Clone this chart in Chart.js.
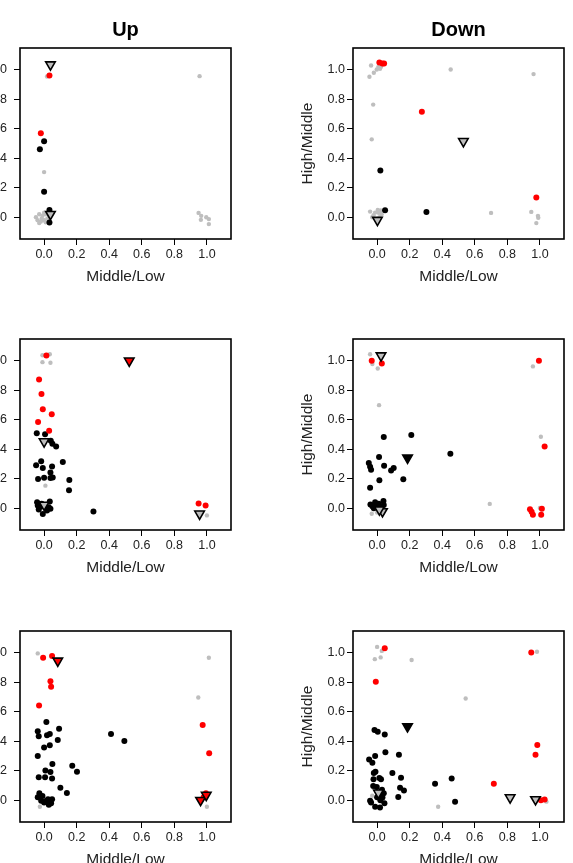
<!DOCTYPE html>
<html>
<head>
<meta charset="utf-8">
<title>Up / Down</title>
<script src="https://cdn.jsdelivr.net/npm/chart.js@4/dist/chart.umd.min.js"></script>
<style>
  html, body { margin: 0; padding: 0; background: #fff; }
  body { width: 573px; height: 863px; position: relative; overflow: hidden; }
  .panel { position: absolute; width: 280px; height: 289px; }
</style>
</head>
<body>
<div class="panel" style="left:-40px; top:0px"><canvas id="up1" width="280" height="289"></canvas></div>
<div class="panel" style="left:293px; top:0px"><canvas id="down1" width="280" height="289"></canvas></div>
<div class="panel" style="left:-40px; top:291px"><canvas id="up2" width="280" height="289"></canvas></div>
<div class="panel" style="left:293px; top:291px"><canvas id="down2" width="280" height="289"></canvas></div>
<div class="panel" style="left:-40px; top:583px"><canvas id="up3" width="280" height="289"></canvas></div>
<div class="panel" style="left:293px; top:583px"><canvas id="down3" width="280" height="289"></canvas></div>
<script>
// ----------------- Axes ----------------
const tickValues = [0, 0.2, 0.4, 0.6, 0.8, 1.0];
const tickLabels = ["0.0", "0.2", "0.4", "0.6", "0.8", "1.0"];
const xTitle = "Middle/Low";
const yTitle = "High/Middle";
const columnTitles = ["Up", "Down"];

// ----------------- Up, row 1 ----------------
const up1Grey = [[-0.05,0.0],[-0.04,-0.02],[-0.03,0.02],[-0.02,-0.03],[-0.01,0.01],[0.0,-0.02],[0.01,0.02],
  [0.02,-0.01],[-0.03,-0.04],[0.02,0.03],[0.0,0.03],[-0.015,-0.01],[0.01,-0.035],[0.03,0.0],
  [0.018,0.955],[0.955,0.957],[0.0,0.306],
  [0.949,0.029],[0.965,0.009],[0.963,-0.018],[0.996,0.0],[1.012,-0.013],[1.012,-0.047]];
const up1Black = [[0.0,0.515],[-0.026,0.461],[0.0,0.173],[0.033,0.049],[0.033,-0.036]];
const up1Red = [[0.033,0.962],[-0.02,0.569]];
const up1TriGrey = [[0.039,1.035],[0.039,0.02]];

// ----------------- Down, row 1 ----------------
const down1Grey = [[-0.037,1.029],[0.008,1.02],[0.018,1.007],[-0.002,1.002],[-0.02,0.98],[-0.047,0.953],
  [0.024,1.02],[0.452,1.002],[0.961,0.971],[-0.024,0.764],[-0.033,0.528],[0.70,0.029],
  [0.947,0.036],[0.988,0.009],[0.990,-0.004],[0.978,-0.04],[-0.043,0.038],[-0.012,0.031],
  [0.004,0.049],[0.022,0.045],[-0.022,0.013],[0.028,0.02],[0.01,0.03],[-0.03,0.0],[0.015,0.0]];
const down1Black = [[0.02,0.317],[0.049,0.047],[0.303,0.036]];
const down1Red = [[0.014,1.049],[0.033,1.043],[0.043,1.043],[0.275,0.715],[0.978,0.133]];
const down1TriGrey = [[0.53,0.515],[0.002,-0.02]];

// ----------------- Up, row 2 ----------------
const up2Grey = [[-0.01,1.038],[0.035,1.045],[-0.01,0.991],[0.039,0.987],[0.008,0.153],[1.0,-0.049],
  [-0.02,0.0],[0.01,-0.02]];
const up2Black = [[-0.045,0.509],[0.006,0.502],[0.041,0.458],[0.051,0.437],[0.074,0.419],[-0.018,0.319],
  [-0.049,0.292],[-0.008,0.272],[0.115,0.313],[0.049,0.283],[0.039,0.243],[-0.037,0.198],
  [0.0,0.207],[0.039,0.204],[0.053,0.209],[0.155,0.191],[0.153,0.121],[-0.043,0.04],
  [-0.039,0.018],[-0.033,-0.009],[-0.008,-0.04],[0.035,0.045],[0.039,-0.004],[0.018,-0.016],
  [-0.022,0.011],[0.029,0.007],[-0.015,0.03],[0.303,-0.022]];
const up2Red = [[0.014,1.036],[-0.031,0.874],[-0.016,0.775],[-0.008,0.672],[0.047,0.638],
  [-0.037,0.584],[0.031,0.526],[0.949,0.031],[0.992,0.018]];
const up2TriRed = [[0.523,1.0]];
const up2TriGrey = [[0.0,0.452],[0.0,0.022],[0.955,-0.038]];

// ----------------- Down, row 2 ----------------
const down2Grey = [[-0.043,1.045],[-0.029,0.978],[0.004,0.948],[0.012,0.699],[0.692,0.029],[0.957,0.962],
  [1.006,0.485],[1.0,0.002],[-0.033,-0.038],[0.04,-0.01],[0.0,-0.03]];
const down2Black = [[0.041,0.483],[0.21,0.497],[0.45,0.369],[0.012,0.348],[-0.051,0.306],[-0.043,0.281],
  [-0.037,0.261],[0.043,0.288],[0.086,0.256],[0.102,0.272],[0.014,0.189],[0.161,0.196],
  [-0.043,0.139],[-0.041,0.025],[-0.029,0.013],[-0.012,0.04],[0.039,0.049],[0.041,0.022],
  [-0.02,0.0],[0.01,0.03],[0.0,0.01]];
const down2Red = [[-0.033,1.0],[0.029,0.982],[0.994,1.0],[1.029,0.418],[0.939,-0.007],[0.949,-0.025],
  [0.957,-0.045],[1.012,-0.004],[1.008,-0.045]];
const down2TriGrey = [[0.024,1.035],[0.033,-0.022],[0.014,-0.01]];
const down2TriBlack = [[0.187,0.342]];

// ----------------- Up, row 3 ----------------
const up3Grey = [[-0.039,0.996],[1.012,0.966],[0.947,0.697],[-0.026,-0.045],[1.0,-0.045]];
const up3Black = [[0.014,0.53],[-0.039,0.467],[-0.033,0.434],[0.018,0.44],[0.035,0.449],[0.092,0.485],
  [0.084,0.409],[0.0,0.357],[0.035,0.373],[-0.039,0.299],[0.051,0.245],[0.173,0.234],
  [0.202,0.193],[0.008,0.202],[0.039,0.191],[-0.033,0.155],[0.006,0.155],[0.049,0.148],
  [0.1,0.085],[0.14,0.049],[0.411,0.449],[0.493,0.402],[-0.039,0.02],[-0.029,0.047],
  [-0.01,0.029],[-0.018,-0.004],[0.0,-0.016],[0.024,0.007],[0.029,-0.031],[0.049,0.007],
  [0.043,-0.02],[0.01,-0.005]];
const up3Red = [[-0.006,0.966],[0.049,0.978],[0.039,0.807],[0.043,0.769],[-0.031,0.643],[0.974,0.51],
  [1.014,0.319],[0.994,0.047],[0.98,0.02]];
const up3TriRed = [[0.084,0.945],[0.961,0.0],[0.996,0.035]];

// ----------------- Down, row 3 ----------------
const down3Grey = [[0.0,1.04],[0.029,1.013],[-0.014,0.957],[0.022,0.969],[0.212,0.951],[0.544,0.69],
  [0.982,1.007],[1.04,-0.01],[0.375,-0.045],[-0.03,0.03]];
const down3Black = [[-0.016,0.476],[0.004,0.465],[0.047,0.445],[0.051,0.326],[0.134,0.308],[-0.049,0.276],
  [-0.029,0.254],[-0.012,0.299],[0.094,0.184],[0.147,0.153],[-0.02,0.184],[-0.01,0.193],
  [-0.022,0.142],[0.014,0.151],[0.024,0.142],[-0.024,0.097],[-0.002,0.09],[0.141,0.085],
  [0.165,0.065],[0.13,0.022],[0.356,0.112],[0.458,0.148],[0.479,-0.011],[-0.043,-0.004],
  [-0.037,-0.016],[0.012,0.047],[0.033,0.018],[0.041,0.047],[-0.012,-0.045],[0.018,-0.049],
  [0.045,-0.02],[0.02,0.0],[0.03,0.07],[0.0,0.02]];
const down3Red = [[0.047,1.031],[-0.008,0.804],[0.947,1.002],[0.984,0.375],[0.973,0.308],[0.717,0.112],
  [1.006,0.0],[1.029,0.004]];
const down3TriGrey = [[0.817,0.018],[0.973,0.005],[0.008,0.05]];
const down3TriBlack = [[0.187,0.5]];

// ----------------- Styling ----------------
const FONT = "'Liberation Sans', Arial, Helvetica, sans-serif";
const TEXT = "#222";
const GREY = "#bebebe";
const RED = "#ff0000";
const AXIS_MIN = -0.148;
const AXIS_MAX = 1.148;

// Box around the plot region, like R's box()
const boxPlugin = {
  id: "box",
  afterDraw(chart) {
    const { ctx, chartArea: a } = chart;
    ctx.save();
    ctx.strokeStyle = "#000";
    ctx.lineWidth = 1.6;
    ctx.strokeRect(a.left, a.top, a.right - a.left, a.bottom - a.top);
    ctx.restore();
  }
};

// Column heading, centred over the plot region
const headingPlugin = {
  id: "heading",
  afterDraw(chart, args, opts) {
    if (!opts.text) return;
    const { ctx, chartArea: a } = chart;
    ctx.save();
    ctx.font = "bold 20px " + FONT;
    ctx.fillStyle = "#000";
    ctx.textAlign = "center";
    ctx.textBaseline = "alphabetic";
    ctx.fillText(opts.text, (a.left + a.right) / 2, 36);
    ctx.restore();
  }
};

function pointSet(data, color, radius, order) {
  return {
    data,
    pointStyle: "circle",
    pointRadius: radius,
    pointBackgroundColor: color,
    pointBorderWidth: 0,
    order
  };
}

function triSet(data, fill) {
  return {
    data,
    pointStyle: "triangle",
    pointRotation: 180,
    pointRadius: 5.5,
    pointBackgroundColor: fill,
    pointBorderColor: "#000",
    pointBorderWidth: 1.6,
    order: 0
  };
}

function axis(extra) {
  return Object.assign({
    type: "linear",
    min: AXIS_MIN,
    max: AXIS_MAX,
    afterBuildTicks: (s) => { s.ticks = tickValues.map((v) => ({ value: v })); },
    grid: { drawOnChartArea: false, drawTicks: true, tickLength: 6, color: "#000", lineWidth: 1 },
    border: { display: false }
  }, extra);
}

function makePanel(id, col, heading, sets) {
  const datasets = [];
  if (sets.triGrey) datasets.push(triSet(sets.triGrey, GREY));
  if (sets.triBlack) datasets.push(triSet(sets.triBlack, "#000"));
  if (sets.triRed) datasets.push(triSet(sets.triRed, RED));
  datasets.push(pointSet(sets.red, RED, 3.0, 1));
  datasets.push(pointSet(sets.black, "#000", 3.0, 2));
  datasets.push(pointSet(sets.grey, GREY, 2.2, 3));

  new Chart(document.getElementById(id), {
    type: "scatter",
    data: { datasets },
    options: {
      responsive: false,
      animation: false,
      events: [],
      layout: { padding: { top: 48, right: 9, left: 0, bottom: 0 } },
      plugins: {
        legend: { display: false },
        tooltip: { enabled: false },
        heading: { text: heading }
      },
      scales: {
        x: axis({
          position: "bottom",
          afterFit: (s) => { s.height = 50; },
          ticks: {
            color: TEXT, font: { family: FONT, size: 12.5 }, padding: 2.5,
            maxRotation: 0, autoSkip: false,
            callback: (v, i) => tickLabels[i]
          },
          title: {
            display: true, text: xTitle, color: TEXT,
            font: { family: FONT, size: 15.5 }, padding: { top: 0, bottom: 3.2 }
          }
        }),
        y: axis({
          position: "left",
          afterFit: (s) => { s.width = 60; },
          ticks: {
            color: TEXT, font: { family: FONT, size: 12.5 }, padding: col === 0 ? 7 : 2,
            autoSkip: false,
            callback: (v, i) => tickLabels[i]
          },
          title: {
            display: true, text: yTitle, color: TEXT,
            font: { family: FONT, size: 15.5 }, padding: { top: 5.7, bottom: 0 }
          }
        })
      }
    },
    plugins: [boxPlugin, headingPlugin]
  });
}

// ----------------- Render ----------------
makePanel("up1", 0, columnTitles[0], { grey: up1Grey, black: up1Black, red: up1Red, triGrey: up1TriGrey });
makePanel("down1", 1, columnTitles[1], { grey: down1Grey, black: down1Black, red: down1Red, triGrey: down1TriGrey });
makePanel("up2", 0, null, { grey: up2Grey, black: up2Black, red: up2Red, triGrey: up2TriGrey, triRed: up2TriRed });
makePanel("down2", 1, null, { grey: down2Grey, black: down2Black, red: down2Red, triGrey: down2TriGrey, triBlack: down2TriBlack });
makePanel("up3", 0, null, { grey: up3Grey, black: up3Black, red: up3Red, triRed: up3TriRed });
makePanel("down3", 1, null, { grey: down3Grey, black: down3Black, red: down3Red, triGrey: down3TriGrey, triBlack: down3TriBlack });
</script>
</body>
</html>
